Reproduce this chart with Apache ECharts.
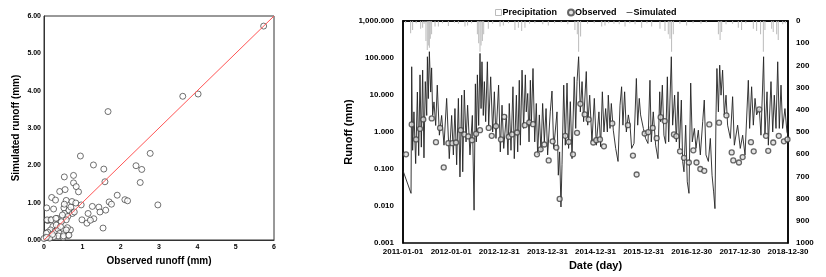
<!DOCTYPE html>
<html>
<head>
<meta charset="utf-8">
<script src="https://cdn.jsdelivr.net/npm/echarts@6/dist/echarts.min.js"></script>
<style>
  html, body { margin: 0; padding: 0; background: #fff; }
  #chart { width: 826px; height: 277px; }
</style>
</head>
<body>
<div id="chart"></div>
<script>
// scatter: observed vs simulated runoff (mm)
const scatterObs = [5.73, 3.62, 4.02, 1.67, 0.95, 2.77, 1.29, 2.40, 1.56, 2.55, 0.53, 0.77, 0.77, 1.59, 2.51, 0.84, 0.41, 0.55, 0.90, 0.20,
  0.30, 0.58, 1.91, 2.11, 2.18, 1.70, 1.76, 2.97, 0.07, 0.25, 0.52, 0.73, 0.83, 0.97, 1.26, 1.43, 1.61, 1.46, 1.15, 1.30,
  0.99, 1.12, 1.21, 1.54, 0.10, 0.17, 0.34, 0.54, 0.65, 0.74, 0.79, 0.62, 0.58, 0.45, 0.23, 0.17, 0.10, 0.06, 0.29, 0.36,
  0.41, 0.52, 0.63, 0.69, 0.61, 0.37, 0.50, 0.25, 0.15, 0.00, 0.06, 0.22, 0.32, 0.48, 0.70, 0.53, 0.08, 0.19, 0.31, 0.43,
  0.51, 0.58, 0.65];
const scatterSim = [5.73, 3.85, 3.91, 3.44, 2.25, 2.32, 2.01, 1.99, 1.90, 1.89, 1.69, 1.73, 1.53, 1.56, 1.54, 1.43, 1.30, 1.35, 1.29, 1.14,
  1.07, 1.06, 1.20, 1.08, 1.05, 1.02, 0.96, 0.94, 0.86, 0.83, 0.86, 1.03, 0.99, 0.94, 0.90, 0.88, 0.80, 0.75, 0.71, 0.57,
  0.54, 0.45, 0.53, 0.32, 0.52, 0.54, 0.58, 0.71, 0.80, 0.71, 0.75, 0.63, 0.54, 0.49, 0.36, 0.27, 0.21, 0.18, 0.23, 0.30,
  0.18, 0.17, 0.12, 0.27, 0.33, 0.11, 0.07, 0.09, 0.05, 0.04, 0.07, 0.15, 0.40, 0.67, 0.88, 0.96, 0.54, 0.54, 0.58, 0.36,
  0.11, 0.27, 0.13];
const oneToOne = [[0, 0], [6, 6]];

// time series, x = days since 2011-01-01
const dateLabels = ["2011-01-01", "2012-01-01", "2012-12-31", "2013-12-31", "2014-12-31",
  "2015-12-31", "2016-12-30", "2017-12-30", "2018-12-30"];

const simDays = [0, 61, 66, 73, 83, 96, 109, 119, 129, 139, 149, 159, 169, 180, 185, 192, 200, 210, 217, 225,
  235, 248, 260, 276, 293, 311, 331, 351, 369, 382, 394, 407, 420, 432, 445, 453, 465, 478, 490, 508,
  526, 539, 549, 556, 564, 574, 584, 592, 599, 609, 617, 627, 640, 650, 665, 680, 693, 705, 725, 738,
  751, 764, 784, 796, 806, 819, 834, 844, 860, 870, 882, 890, 903, 915, 928, 935, 946, 956, 966, 973,
  986, 999, 1011, 1021, 1034, 1047, 1059, 1072, 1085, 1097, 1117, 1130, 1143, 1168, 1178, 1188, 1198, 1206, 1219, 1231,
  1244, 1256, 1269, 1282, 1299, 1310, 1320, 1332, 1345, 1358, 1370, 1390, 1401, 1416, 1433, 1451, 1466, 1474, 1486, 1499,
  1512, 1524, 1537, 1550, 1557, 1570, 1580, 1595, 1613, 1631, 1646, 1658, 1668, 1681, 1694, 1709, 1722, 1734, 1752, 1770,
  1780, 1792, 1802, 1823, 1840, 1858, 1873, 1883, 1898, 1916, 1934, 1947, 1954, 1967, 1979, 1992, 2005, 2015, 2035, 2045,
  2060, 2073, 2086, 2096, 2111, 2121, 2131, 2144, 2156, 2169, 2182, 2194, 2210, 2222, 2240, 2255, 2273, 2285, 2298, 2316,
  2331, 2344, 2356, 2366, 2374, 2381, 2392, 2402, 2412, 2424, 2437, 2450, 2462, 2483, 2500, 2513, 2538, 2558, 2576, 2594,
  2619, 2629, 2644, 2657, 2670, 2682, 2702, 2715, 2735, 2745, 2761, 2771, 2791, 2804, 2816, 2829, 2842, 2854, 2867, 2879,
  2897, 2912, 2920];
const simValues = [0.09, 0.022, 58, 0.32, 3.5, 0.14, 12, 0.23, 35, 0.39, 47, 0.2, 23, 2.8, 108, 8, 148, 12, 54, 2.8,
  6.5, 1.5, 18.5, 0.82, 2.8, 0.44, 8.1, 0.19, 2.8, 0.24, 4.3, 0.13, 8.1, 0.061, 9.9, 0.084, 13.6, 0.54, 5.3, 0.24,
  2.8, 0.0077, 20, 0.54, 35, 1.5, 133, 4.3, 79, 2.8, 23, 1.9, 79, 1.5, 31, 1.0, 12.2, 0.67, 18.5, 0.29,
  5.3, 0.36, 2.9, 0.24, 5.9, 0.32, 16.7, 0.19, 9.9, 0.29, 25, 0.44, 47, 1.25, 35, 3.5, 11, 0.54, 25, 1.53,
  52, 0.54, 5.9, 0.24, 2.9, 0.29, 5.9, 0.54, 4.3, 0.24, 3.5, 12.8, 0.36, 3.5, 0.068, 0.29, 0.0094, 0.13, 18.5, 0.44,
  21, 0.36, 6.6, 0.19, 31, 1.25, 23, 108, 3.5, 23, 1.9, 43, 1.53, 9.9, 0.54, 8.1, 0.44, 1.0, 3.5, 0.40,
  12.2, 1.0, 4.3, 1.0, 9.9, 1.25, 5.9, 1.12, 0.36, 0.16, 5.3, 16.7, 1.53, 12.2, 1.0, 2.9, 1.53, 0.36, 0.49, 28,
  1.53, 8.1, 2.9, 1.25, 0.67, 0.49, 25, 0.54, 3.5, 0.44, 0.19, 12.2, 1.9, 18.5, 0.82, 0.49, 31, 0.54, 108, 1.53,
  9.9, 0.54, 12.2, 0.36, 7.3, 0.16, 0.084, 1.53, 0.045, 0.022, 21, 0.54, 1.25, 0.36, 1.12, 0.24, 1.9, 7.3, 0.24, 0.16,
  0.67, 0.068, 0.024, 0.0085, 2.9, 52, 3.5, 64, 9.9, 47, 2.9, 9.9, 1.53, 0.67, 9.0, 0.44, 1.53, 0.36, 0.82, 0.24,
  25, 1.25, 16.7, 1.53, 8.1, 2.9, 4.3, 0.82, 108, 0.82, 12.2, 0.44, 23, 1.0, 9.9, 1.25, 79, 1.25, 18.5, 1.25,
  4.3, 1.0, 0.8];

const obsDays = [23, 66, 99, 129, 154, 218, 250, 281, 309, 344, 374, 402, 438, 465, 495, 523, 554, 584, 650, 673,
  705, 743, 768, 802, 827, 865, 923, 958, 986, 1016, 1044, 1072, 1105, 1135, 1163, 1188, 1231, 1257, 1289, 1320,
  1345, 1378, 1408, 1443, 1466, 1494, 1524, 1587, 1706, 1744, 1772, 1833, 1860, 1894, 1924, 1954, 1985, 2055, 2073, 2101,
  2131, 2168, 2202, 2226, 2255, 2285, 2323, 2397, 2453, 2493, 2505, 2548, 2576, 2639, 2660, 2702, 2753, 2770, 2808, 2850,
  2889, 2916];
const obsValues = [0.25, 1.60, 0.63, 1.22, 2.19, 2.33, 0.53, 1.29, 0.11, 0.50, 0.50, 0.52, 1.12, 0.86, 0.76, 0.60, 0.89, 1.12, 1.29, 0.79,
  1.44, 0.63, 2.57, 0.74, 0.86, 0.97, 1.53, 1.81, 1.63, 0.25, 0.34, 0.46, 0.17, 0.56, 0.38, 0.0155, 0.79, 0.54, 0.25, 0.95,
  5.78, 2.99, 2.19, 0.52, 0.60, 0.63, 0.41, 1.70, 1.53, 0.23, 0.071, 0.91, 0.99, 1.29, 0.68, 2.52, 1.97, 0.86, 0.77, 0.30,
  0.20, 0.15, 0.32, 0.15, 0.10, 0.089, 1.60, 1.79, 2.81, 0.28, 0.17, 0.15, 0.21, 0.53, 0.30, 4.07, 0.79, 0.31, 0.52, 0.79,
  0.56, 0.63];

const precipDays = [20, 58, 73, 100, 134, 149, 160, 174, 184, 192, 200, 207, 217, 243, 268, 300, 344, 390, 420, 470,
  490, 520, 564, 574, 584, 592, 602, 612, 647, 680, 736, 761, 800, 849, 875, 900, 925, 960, 1000, 1060,
  1102, 1150, 1200, 1250, 1304, 1322, 1332, 1347, 1400, 1450, 1507, 1532, 1560, 1600, 1640, 1684, 1720, 1760, 1810, 1850,
  1886, 1949, 1987, 2012, 2025, 2037, 2050, 2100, 2151, 2200, 2260, 2300, 2392, 2405, 2417, 2450, 2500, 2543, 2568, 2600,
  2657, 2682, 2712, 2733, 2745, 2796, 2808, 2834, 2846, 2880, 2900];
const precipValues = [8, 55, 40, 10, 35, 30, 12, 90, 131, 110, 120, 80, 60, 25, 25, 10, 22, 8, 12, 25,
  20, 10, 60, 100, 138, 110, 90, 60, 35, 12, 25, 20, 10, 40, 30, 45, 30, 12, 10, 15,
  20, 10, 8, 15, 40, 60, 138, 70, 12, 10, 25, 20, 10, 12, 15, 25, 10, 15, 30, 10,
  25, 35, 45, 60, 80, 138, 60, 12, 20, 10, 12, 8, 60, 86, 50, 15, 12, 30, 40, 10,
  35, 45, 60, 138, 40, 35, 50, 60, 86, 15, 10];

const FONT = "Liberation Sans, Arial, sans-serif";
const bold = (size) => ({ fontFamily: FONT, fontWeight: "bold", fontSize: size, color: "#000" });

const chart = echarts.init(document.getElementById("chart"));

const option = {
  animation: false,
  legend: {
    top: 3,
    left: 490,
    itemWidth: 6,
    itemHeight: 6,
    itemGap: 10,
    textStyle: Object.assign(bold(9), { padding: [0, 0, 0, -4] }),
    data: [
      { name: "Precipitation", icon: "rect", itemStyle: { color: "#fff", borderColor: "#bbb", borderWidth: 1 } },
      { name: "Observed", icon: "circle" },
      { name: "Simulated", icon: "path://M0,4.4H10V5.6H0Z", itemStyle: { color: "#222" } },
    ],
  },
  grid: [
    { left: 44, top: 16, width: 230, height: 224, show: true, borderColor: "#333", borderWidth: 1 },
    { left: 403, top: 21, width: 385, height: 222, show: true, borderColor: "#000", borderWidth: 1.5 },
  ],
  xAxis: [
    {
      gridIndex: 0, type: "value", min: 0, max: 6, interval: 1,
      name: "Observed runoff (mm)", nameLocation: "middle", nameGap: 13,
      nameTextStyle: bold(10),
      axisLine: { lineStyle: { color: "#333" } },
      axisTick: { show: false },
      axisLabel: Object.assign(bold(7), { margin: 4 }),
      splitLine: { show: false },
    },
    {
      gridIndex: 1, type: "value", min: 0, max: 2920, interval: 365,
      name: "Date (day)", nameLocation: "middle", nameGap: 16,
      nameTextStyle: bold(11),
      axisLine: { lineStyle: { color: "#000", width: 1.5 } },
      axisTick: { show: false },
      axisLabel: Object.assign(bold(8), {
        margin: 5,
        formatter: (v) => dateLabels[Math.round(v / 365)],
      }),
      splitLine: { show: false },
    },
  ],
  yAxis: [
    {
      gridIndex: 0, type: "value", min: 0, max: 6, interval: 1,
      name: "Simulated runoff (mm)", nameLocation: "middle", nameGap: 23,
      nameTextStyle: bold(10),
      axisLine: { lineStyle: { color: "#333" } },
      axisTick: { show: false },
      axisLabel: Object.assign(bold(7), { margin: 3, formatter: (v) => v.toFixed(2) }),
      splitLine: { show: false },
    },
    {
      gridIndex: 1, type: "log", logBase: 10, min: 0.001, max: 1000,
      name: "Runoff (mm)", nameLocation: "middle", nameGap: 40,
      nameTextStyle: bold(11),
      axisLine: { lineStyle: { color: "#000", width: 1.5 } },
      axisTick: { show: false },
      minorTick: { show: false },
      axisLabel: Object.assign(bold(8), {
        margin: 9,
        formatter: (v) => v.toLocaleString("en-US", { minimumFractionDigits: 3, maximumFractionDigits: 3 }),
      }),
      splitLine: { show: false },
    },
    {
      gridIndex: 1, type: "value", position: "right", inverse: true,
      min: 0, max: 1000, interval: 100,
      axisLine: { show: true, lineStyle: { color: "#000", width: 1.5 } },
      axisTick: { show: false },
      axisLabel: Object.assign(bold(8), { margin: 8, formatter: (v) => String(v) }),
      splitLine: { show: false },
    },
  ],
  series: [
    {
      name: "scatter", type: "scatter", xAxisIndex: 0, yAxisIndex: 0,
      symbolSize: 6,
      itemStyle: { color: "#fff", borderColor: "#222", borderWidth: 0.8 },
      data: scatterObs.map((x, i) => [x, scatterSim[i]]),
      z: 3,
    },
    {
      name: "1:1", type: "line", xAxisIndex: 0, yAxisIndex: 0,
      symbol: "none",
      lineStyle: { color: "#f55", width: 1 },
      data: oneToOne,
      z: 4,
    },
    {
      name: "Precipitation", type: "bar", xAxisIndex: 1, yAxisIndex: 2,
      barWidth: 1,
      itemStyle: { color: "#bbb" },
      data: precipDays.map((d, i) => [d, precipValues[i]]),
      z: 1,
    },
    {
      name: "Simulated", type: "line", xAxisIndex: 1, yAxisIndex: 1,
      symbol: "none",
      lineStyle: { color: "#222", width: 0.9 },
      itemStyle: { color: "#222" },
      data: simDays.map((d, i) => [d, simValues[i]]),
      z: 2,
    },
    {
      name: "Observed", type: "scatter", xAxisIndex: 1, yAxisIndex: 1,
      symbolSize: 5,
      itemStyle: { color: "#ddd", borderColor: "#444", borderWidth: 1.3 },
      data: obsDays.map((d, i) => [d, obsValues[i]]),
      z: 3,
    },
  ],
};

chart.setOption(option);
</script>
</body>
</html>
